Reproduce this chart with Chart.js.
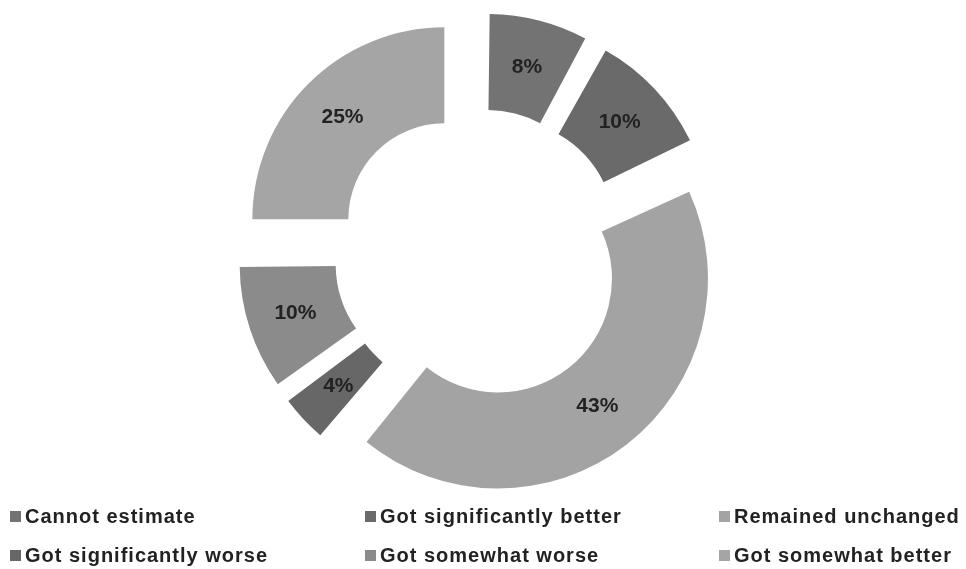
<!DOCTYPE html>
<html>
<head>
<meta charset="utf-8">
<script src="https://cdn.jsdelivr.net/npm/chart.js@4/dist/chart.umd.min.js"></script>
<style>
  html, body { margin: 0; padding: 0; background: #fff; }
  #wrap { position: relative; width: 966px; height: 569px; overflow: hidden; }
  #box { position: absolute; left: 0; top: 0; width: 966px; height: 508px; }
  #legenda {
    position: absolute; left: 10px; top: 497px;
    display: grid; grid-template-columns: 355px 354px 247px;
    grid-auto-rows: 39px;
    font-family: "Liberation Sans", Arial, sans-serif;
    font-weight: bold; font-size: 20px; letter-spacing: 1px; color: #222;
  }
  .item { display: flex; align-items: center; white-space: nowrap; }
  .quad { width: 11px; height: 11px; margin-right: 4px; flex: none; }
</style>
</head>
<body>
<div id="wrap">
  <div id="box"><canvas id="grafico"></canvas></div>
  <div id="legenda"></div>
</div>
<script>
// respostas e percentuais
const categorias = ['Cannot estimate', 'Got significantly better', 'Remained unchanged',
  'Got significantly worse', 'Got somewhat worse', 'Got somewhat better'];
const percentuais = [8, 10, 43, 4, 10, 25];
const cores = ['#737373', '#6a6a6a', '#a3a3a3', '#676767', '#8b8b8b', '#a5a5a5'];

// quanto cada fatia sai do centro (px)
const EXPLOSAO = 49;

// o ArcElement desloca offset/4 * (2 - sin(circ)), então compensa aqui
function offsetFatia(ctx) {
  const total = ctx.dataset.data.reduce((a, b) => a + b, 0);
  const circ = ctx.parsed / total * Math.PI * 2;
  return 4 * EXPLOSAO / (2 - Math.sin(Math.min(Math.PI, circ)));
}

// escreve o percentual no meio de cada fatia
const rotulos = {
  id: 'rotulos',
  afterDatasetsDraw(chart) {
    const ctx = chart.ctx;
    const meta = chart.getDatasetMeta(0);
    ctx.save();
    ctx.font = 'bold 21px "Liberation Sans", Arial, sans-serif';
    ctx.fillStyle = '#222';
    ctx.textAlign = 'center';
    ctx.textBaseline = 'middle';
    meta.data.forEach((arco, i) => {
      const p = arco.getProps(['x', 'y', 'startAngle', 'endAngle', 'innerRadius', 'outerRadius', 'circumference']);
      const meio = (p.startAngle + p.endAngle) / 2;
      const off = (arco.options.offset || 0) / 4;
      const desloc = off * (2 - Math.sin(Math.min(Math.PI, p.circumference)));
      const r = desloc + (p.innerRadius + p.outerRadius) / 2;
      ctx.fillText(percentuais[i] + '%', p.x + Math.cos(meio) * r, p.y + Math.sin(meio) * r);
    });
    ctx.restore();
  }
};

const grafico = new Chart(document.getElementById('grafico'), {
  type: 'doughnut',
  data: {
    labels: categorias,
    datasets: [{
      data: percentuais,
      backgroundColor: cores,
      borderWidth: 0,
      offset: offsetFatia,
      hoverOffset: offsetFatia
    }]
  },
  options: {
    responsive: true,
    maintainAspectRatio: false,
    animation: false,
    radius: 192,
    cutout: '50%',
    layout: { padding: { right: 8 } },
    plugins: {
      legend: { display: false },
      tooltip: { enabled: false }
    }
  },
  plugins: [rotulos]
});

// legenda em grade de 3 colunas
const legenda = document.getElementById('legenda');
grafico.data.labels.forEach((nome, i) => {
  const item = document.createElement('div');
  item.className = 'item';
  const quad = document.createElement('span');
  quad.className = 'quad';
  quad.style.background = grafico.data.datasets[0].backgroundColor[i];
  item.appendChild(quad);
  item.appendChild(document.createTextNode(nome));
  legenda.appendChild(item);
});
</script>
</body>
</html>
